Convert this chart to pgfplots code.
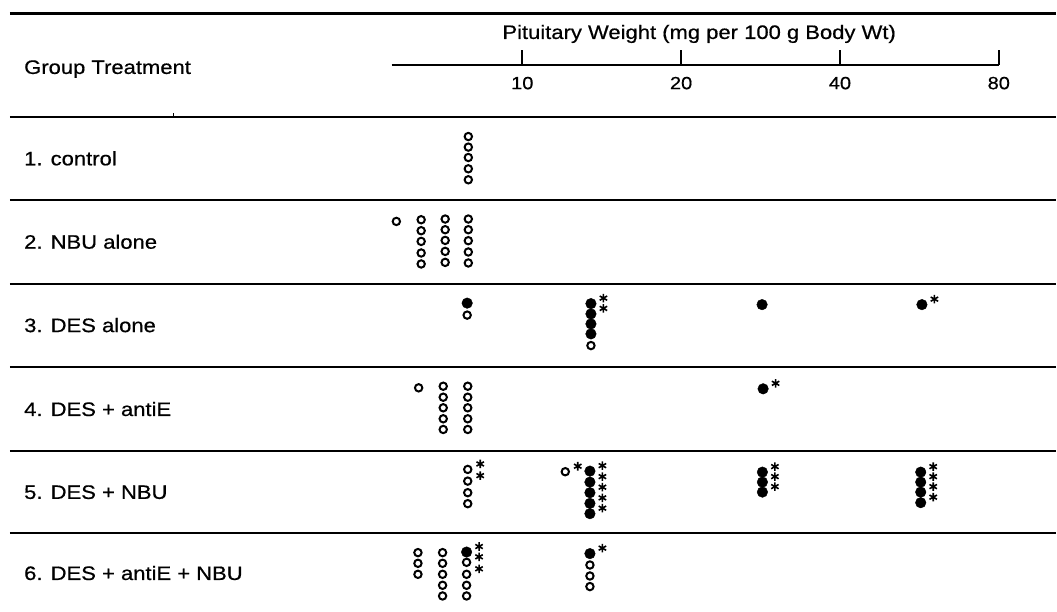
\documentclass[border=0pt]{standalone}
\usepackage{pgfplots}
\pgfplotsset{compat=1.18}
\usepackage{fontspec}
\setmainfont{Liberation Sans}[FakeStretch=1.13, FakeBold=0.6]
\newcommand\lab{\fontsize{19.5}{23}\selectfont}
\begin{document}
\begin{tikzpicture}
\path (0,0) rectangle (1057pt,612pt);
% ---------------- frame: rules and texts (pixel frame) ----------------
\begin{axis}[at={(0pt,0pt)}, anchor=south west, scale only axis,
  width=1057pt, height=612pt, xmin=0, xmax=1057, ymin=0, ymax=612,
  y dir=reverse, hide axis, clip=false]
\addplot[black, line width=2.6pt] coordinates {(10,13.5) (1057,13.5)};
\addplot[black, line width=2pt] coordinates {(10,117.3) (1057,117.3)};
\addplot[black, line width=2pt] coordinates {(10,200) (1057,200)};
\addplot[black, line width=2pt] coordinates {(10,284) (1057,284)};
\addplot[black, line width=2pt] coordinates {(10,367.3) (1057,367.3)};
\addplot[black, line width=2pt] coordinates {(10,451.7) (1057,451.7)};
\addplot[black, line width=2pt] coordinates {(10,533.3) (1057,533.3)};
\addplot[black, line width=1.4pt] coordinates {(173.5,113.5) (173.5,117.3)};
\node[anchor=base, inner sep=0pt, font=\lab] at (axis cs:700,39) {Pituitary Weight (mg per 100 g Body Wt)};
\node[anchor=base west, inner sep=0pt, font=\lab] at (axis cs:24,74) {Group Treatment};
\node[anchor=base west, inner sep=0pt, font=\lab] at (axis cs:24,165.5) {1. control};
\node[anchor=base west, inner sep=0pt, font=\lab] at (axis cs:24,249) {2. NBU alone};
\node[anchor=base west, inner sep=0pt, font=\lab] at (axis cs:24,332.5) {3. DES alone};
\node[anchor=base west, inner sep=0pt, font=\lab] at (axis cs:24,416.5) {4. DES + antiE};
\node[anchor=base west, inner sep=0pt, font=\lab] at (axis cs:24,499.5) {5. DES + NBU};
\node[anchor=base west, inner sep=0pt, font=\lab] at (axis cs:24,580.7) {6. DES + antiE + NBU};
\end{axis}
% ---------------- scale axis ----------------
\begin{axis}[at={(392pt,547pt)}, anchor=south west, scale only axis,
  width=608pt, height=20pt, xmode=log, xmin=5.651, xmax=80, ymin=0, ymax=1,
  axis x line=bottom, axis y line=none,
  x axis line style={-, line width=1.8pt, black},
  xtick={10,20,40,80}, xticklabels={10,20,40,80}, minor xtick={},
  tick align=inside, major tick length=15pt,
  every tick/.style={black, line width=1.8pt},
  xticklabel style={font=\fontsize{17.7}{20}\selectfont, anchor=base, yshift=-24.3pt},
  /pgf/number format/assume math mode=true]
\addplot[draw=none] coordinates {(10,0.5)};
\end{axis}
% ---------------- data axis ----------------
\begin{axis}[at={(0pt,0pt)}, anchor=south west, scale only axis,
  width=1057pt, height=612pt, xmode=log, xmin=1.023, xmax=102.55,
  ymin=0, ymax=612, y dir=reverse, hide axis, clip=false]
% open circles
\addplot[only marks, mark=o, mark size=3.7pt, mark options={black, line width=2pt}] coordinates {
(7.90,136.7)(7.90,147.3)(7.90,157.7)(7.90,169)(7.90,180)
(5.77,221.7)
(6.43,220)(6.43,231)(6.43,241.7)(6.43,253.3)(6.43,264.3)
(7.14,219.3)(7.14,230)(7.14,240.7)(7.14,251.7)(7.14,262.7)
(7.90,219.3)(7.90,230)(7.90,241)(7.90,252.3)(7.90,263.3)
(7.86,315.5)
(13.49,346)
(6.36,388.3)
(7.08,386.7)(7.08,397.7)(7.08,408.3)(7.08,419.3)(7.08,430)
(7.88,386.7)(7.88,397.7)(7.88,408.3)(7.88,419.3)(7.88,430)
(7.88,470)(7.88,481.7)(7.88,493.3)(7.88,504.3)
(12.06,472.3)
(6.34,553.3)(6.34,564)(6.34,575)
(7.06,553.3)(7.06,564)(7.06,575)(7.06,586)(7.06,596.7)
(7.84,563)(7.84,575)(7.84,586)(7.84,596.7)
(13.43,565.7)(13.43,576.7)(13.43,587.3)
};
% filled dots
\addplot[only marks, mark=*, mark size=5.3pt, mark options={black, fill=black, line width=0.4pt}] coordinates {
(7.86,303.5)
(13.49,304)(13.49,314.3)(13.49,324.3)(13.49,334.3)
(28.47,305)
(57.2,305)
(28.6,389.3)
(13.43,471.7)(13.43,482.7)(13.43,493.3)(13.43,504)(13.43,514.3)
(28.51,472.7)(28.51,482.7)(28.51,492.7)
(56.9,472.7)(56.9,482.7)(56.9,492.7)(56.9,503.3)
(7.84,552.7)
(13.43,554.3)
};
% asterisks attached to marked animals
\addplot[only marks, mark=asterisk, mark size=4.3pt, mark options={black, line width=1.6pt, xshift=12.5pt, yshift=5.5pt}] coordinates {
(13.49,304)(13.49,314.3)
(57.2,305)
(28.6,389.3)
(7.88,470)(7.88,481.7)
(12.06,472.3)
(13.43,471.7)(13.43,482.7)(13.43,493.3)(13.43,504)(13.43,514.3)
(28.51,472.7)(28.51,482.7)(28.51,492.7)
(56.9,472.7)(56.9,482.7)(56.9,492.7)(56.9,503.3)
(7.84,552.7)(7.84,563)(7.84,575)
(13.43,554.3)
};
\end{axis}
\end{tikzpicture}
\end{document}
